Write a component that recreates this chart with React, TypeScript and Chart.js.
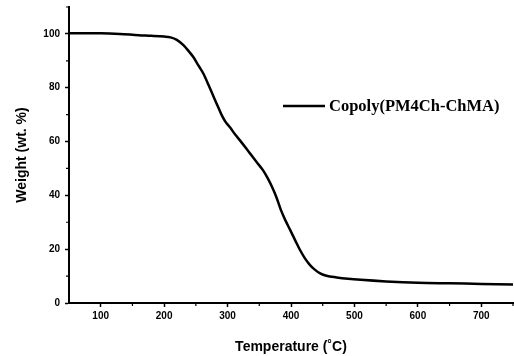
import React, { useEffect, useRef } from "react";
import { Chart, registerables } from "chart.js";

Chart.register(...registerables);

const temperatures = [50, 100, 130, 160, 180, 200, 210, 220, 230, 238, 246, 254, 262, 270, 277, 284, 290, 296, 304, 312, 322, 335, 346, 356, 363, 370, 377, 384, 391, 399, 407, 414, 422, 430, 438, 446, 456, 472, 490, 510, 550, 600, 650, 700, 750];
const weights = [100.2, 100.2, 100.0, 99.5, 99.3, 99.0, 98.7, 97.8, 95.9, 93.8, 91.4, 88.3, 85.2, 81.0, 77.2, 73.4, 70.2, 67.6, 65.2, 62.6, 59.7, 55.7, 52.3, 49.3, 46.5, 43.2, 39.3, 34.6, 30.8, 27.0, 23.1, 19.8, 16.6, 14.1, 12.3, 11.0, 10.1, 9.5, 9.0, 8.6, 8.0, 7.5, 7.3, 7.1, 6.9];
const seriesLabel = "Copoly(PM4Ch-ChMA)";
const xMajorTicks = [100, 200, 300, 400, 500, 600, 700];
const xMinorTicks = [150, 250, 350, 450, 550, 650, 750];
const yMajorTicks = [0, 20, 40, 60, 80, 100];
const yMinorTicks = [10, 30, 50, 70, 90, 110];

const minorTickPlugin = {
  id: "minorTicks",
  afterDraw(chart: any) {
    const ctx = chart.ctx;
    const xs = chart.scales.x;
    const ys = chart.scales.y;
    const area = chart.chartArea;
    ctx.save();
    ctx.strokeStyle = "#000";
    ctx.lineWidth = 1.2;
    ctx.beginPath();
    xMinorTicks.forEach((v) => {
      const px = xs.getPixelForValue(v);
      ctx.moveTo(px, area.bottom);
      ctx.lineTo(px, area.bottom + 3);
    });
    yMinorTicks.forEach((v) => {
      const py = ys.getPixelForValue(v);
      ctx.moveTo(area.left, py);
      ctx.lineTo(area.left - 3, py);
    });
    ctx.stroke();
    ctx.restore();
  },
};

const legendPlugin = {
  id: "customLegend",
  afterDraw(chart: any) {
    const ctx = chart.ctx;
    const ds = chart.data.datasets[0];
    const y = 106;
    ctx.save();
    ctx.strokeStyle = ds.borderColor;
    ctx.lineWidth = 2.5;
    ctx.beginPath();
    ctx.moveTo(283, y);
    ctx.lineTo(325, y);
    ctx.stroke();
    ctx.fillStyle = "#000";
    ctx.font = "bold 16.5px 'Liberation Serif', 'Times New Roman', serif";
    ctx.textBaseline = "middle";
    ctx.textAlign = "left";
    ctx.fillText(ds.label, 329, y + 1);
    ctx.restore();
  },
};

export default function App() {
  const ref = useRef<HTMLCanvasElement | null>(null);
  useEffect(() => {
    if (!ref.current) return;
    const chart = new Chart(ref.current, {
      type: "line",
      data: {
        datasets: [
          {
            label: seriesLabel,
            data: temperatures.map((t, i) => ({ x: t, y: weights[i] })),
            borderColor: "#000",
            borderWidth: 2.5,
            pointRadius: 0,
            fill: false,
            cubicInterpolationMode: "monotone",
          },
        ],
      },
      options: {
        responsive: false,
        animation: false,
        layout: { padding: { top: 7, right: 1, left: 0, bottom: 0 } },
        plugins: { legend: { display: false }, tooltip: { enabled: false } },
        scales: {
          x: {
            type: "linear",
            min: 50,
            max: 750,
            afterBuildTicks: (s: any) => {
              s.ticks = xMajorTicks.map((v) => ({ value: v }));
            },
            afterFit: (s: any) => {
              s.height = 53;
              s.paddingLeft = 0;
              s.paddingRight = 0;
            },
            grid: { display: true, drawOnChartArea: false, drawTicks: true, tickLength: 4, tickColor: "#000", tickWidth: 1.5, color: "#000" },
            border: { display: true, color: "#000", width: 2 },
            ticks: { color: "#000", font: { family: "'Liberation Sans', Arial, sans-serif", size: 10, weight: "bold" }, padding: 3, maxRotation: 0, autoSkip: false },
            title: { display: true, text: "Temperature (\u02DAC)", color: "#000", font: { family: "'Liberation Sans', Arial, sans-serif", size: 14, weight: "bold" }, padding: { top: 0, bottom: 0 } },
          },
          y: {
            type: "linear",
            min: 0,
            max: 110,
            afterBuildTicks: (s: any) => {
              s.ticks = yMajorTicks.map((v) => ({ value: v }));
            },
            afterFit: (s: any) => {
              s.width = 69;
              s.paddingTop = 0;
              s.paddingBottom = 0;
            },
            grid: { display: true, drawOnChartArea: false, drawTicks: true, tickLength: 4, tickColor: "#000", tickWidth: 1.5, color: "#000" },
            border: { display: true, color: "#000", width: 2 },
            ticks: { color: "#000", font: { family: "'Liberation Sans', Arial, sans-serif", size: 10, weight: "bold" }, padding: 5, autoSkip: false },
            title: { display: true, text: "Weight (wt. %)", color: "#000", font: { family: "'Liberation Sans', Arial, sans-serif", size: 14, weight: "bold" }, padding: { top: 14, bottom: 0 } },
          },
        },
      },
      plugins: [minorTickPlugin, legendPlugin],
    } as any);
    return () => chart.destroy();
  }, []);
  return (
    <div style={{ position: "absolute", left: 0, top: 0, width: 514, height: 356, background: "#fff" }}>
      <canvas ref={ref} width={514} height={356} />
    </div>
  );
}
